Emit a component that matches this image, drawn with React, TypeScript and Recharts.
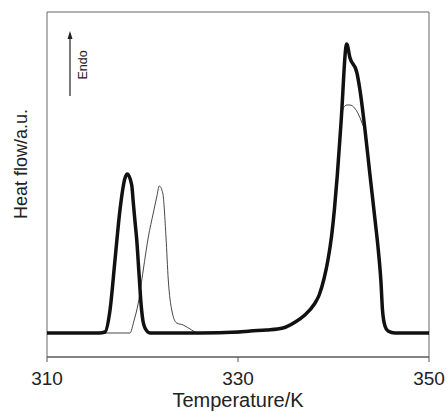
import { LineChart, Line, XAxis, YAxis, ReferenceArea } from 'recharts';

// thick trace (temperature K, heat flow a.u.)
const thickT = [
  310, 315.5, 316.07, 316.6, 317.12, 317.64, 318.17, 318.41, 318.87, 319.04, 319.21, 319.39, 319.63, 319.84,
  320.05, 320.26, 320.79, 322, 326, 330, 331.3, 333, 334.7, 336.0, 337.0, 338.0, 338.5, 339.0, 339.4, 339.8,
  340.1, 340.4, 340.8, 341.38, 341.73, 342.43, 342.77, 343.3, 343.82, 344.35, 344.69, 344.97, 345.13, 345.39,
  345.71, 346.44, 350,
];
const thickH = [
  0, 0, 1, 23, 73, 123, 155, 159, 148, 130, 112, 94, 60, 30,
  12, 5, 0, 0, 0, 1, 2, 3, 5, 11, 18, 29, 38, 54, 72, 97,
  124, 158, 212, 289, 275, 261, 243, 203, 158, 113, 83, 51, 23, 7,
  2, 0, 0,
];

// thin trace
const thinT = [
  310, 318.69, 319.1, 319.56, 320.08, 320.61, 321.13, 321.49, 321.76, 322.12, 322.46, 322.7, 323.06, 323.58,
  324.27, 325.15, 325.81, 330, 331.3, 333, 334.7, 336.0, 337.0, 338.0, 338.5, 339.0, 339.4, 339.8, 340.1,
  340.4, 340.86, 341.03, 341.4, 341.73, 342.2, 342.6, 342.95, 343.3, 343.82, 344.35, 344.69, 344.97, 345.13,
  345.39, 345.71, 346.44, 350,
];
const thinH = [
  0, 0, 12, 30, 63, 96, 120, 136, 147, 140, 96, 53, 23, 10,
  8, 3, 0, 0, 2, 3, 5, 10, 17, 28, 37, 52, 70, 95, 122,
  155, 216, 225, 228, 228, 225, 219, 211, 201, 158, 113, 83, 51, 23,
  7, 2, 0, 0,
];

const xTicks = [310, 330, 350];

const thickData = thickT.map((t, i) => ({ t, h: thickH[i] }));
const thinData = thinT.map((t, i) => ({ t, h: thinH[i] }));

const font = '"Liberation Sans", Arial, sans-serif';

export default function App() {
  return (
    <div style={{ position: 'fixed', top: 0, left: 0, width: 447, height: 412, background: '#fff', fontFamily: font }}>
      <LineChart width={447} height={412} margin={{ top: 12, right: 18, left: 47, bottom: 0 }}>
        <XAxis
          dataKey="t"
          type="number"
          domain={[310, 350]}
          ticks={xTicks}
          allowDataOverflow
          height={55}
          stroke="#555"
          tickSize={5}
          tickMargin={10}
          tick={{ fill: '#222', fontSize: 19, fontFamily: font }}
        />
        <YAxis type="number" domain={[-24, 321]} hide allowDataOverflow />
        <ReferenceArea x1={310} x2={350} y1={-24} y2={321} fill="none" stroke="#666" strokeWidth={1} ifOverflow="visible" />
        <Line data={thinData} dataKey="h" type="monotone" stroke="#333" strokeWidth={0.9} dot={false} isAnimationActive={false} />
        <Line data={thickData} dataKey="h" type="monotone" stroke="#111" strokeWidth={3.5} dot={false} isAnimationActive={false} />
      </LineChart>
      <svg width={447} height={412} style={{ position: 'absolute', top: 0, left: 0, pointerEvents: 'none' }}>
        <text x={27} y={164} transform="rotate(-90 27 164)" textAnchor="middle" fontSize={18} fill="#222" fontFamily={font}>
          Heat flow/a.u.
        </text>
        <text x={238} y={407} textAnchor="middle" fontSize={20} fill="#222" fontFamily={font}>
          Temperature/K
        </text>
        <line x1={70} y1={38} x2={70} y2={96} stroke="#222" strokeWidth={1.2} />
        <path d="M70,31 L67.5,39 L72.5,39 Z" fill="#222" />
        <text x={87} y={65} transform="rotate(-90 87 65)" textAnchor="middle" fontSize={12.5} fill="#222" fontFamily={font}>
          Endo
        </text>
      </svg>
    </div>
  );
}
